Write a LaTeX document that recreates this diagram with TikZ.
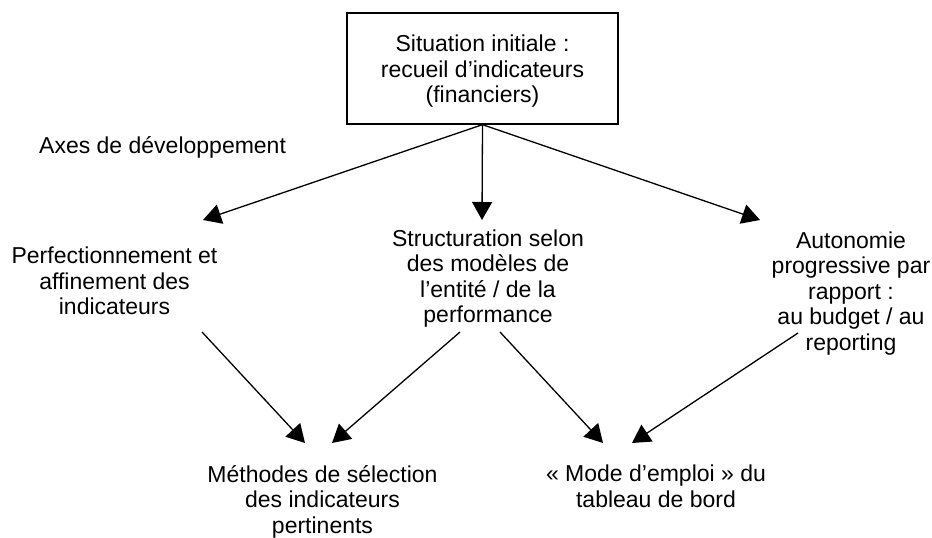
\documentclass[tikz,border=0pt]{standalone}
\usepackage{fontspec}
\setmainfont{Liberation Sans}
\usetikzlibrary{arrows.meta}
\begin{document}
\begin{tikzpicture}[x=1pt,y=-1pt,
  txt/.style={align=center,inner sep=0pt,font=\fontsize{23}{25.5}\selectfont},
  conn/.style={line width=1.3pt,-{Triangle[length=18pt,width=20pt]}}]
\useasboundingbox (0,0) rectangle (932,538);
\node[draw,line width=1.3pt,minimum width=271pt,minimum height=111pt,inner sep=0pt] (box) at (482.5,68.5) {};
\node[txt] (boxtxt) at (482.5,71.5) {Situation initiale :\\recueil d’indicateurs\\(financiers)};
\node[txt,anchor=west] (axes) at (39,147) {Axes de développement};
\node[txt] (perf) at (114.5,281) {Perfectionnement et\\affinement des\\indicateurs};
\node[txt] (struct) at (488,278.5) {Structuration selon\\des modèles de\\l’entité / de la\\performance};
\node[txt] (auto) at (851,293.5) {Autonomie\\progressive par\\rapport :\\au budget / au\\reporting};
\node[txt] (meth) at (322.5,501.5) {Méthodes de sélection\\des indicateurs\\pertinents};
\node[txt] (mode) at (656,486.5) {« Mode d’emploi » du\\tableau de bord};
\coordinate (t1) at (203,220);
\coordinate (t2) at (482,220);
\coordinate (t3) at (760,220);
\coordinate (s4) at (202,332);
\coordinate (t4) at (305,443);
\coordinate (s5) at (460,332);
\coordinate (t5) at (332,443);
\coordinate (s6) at (500,332);
\coordinate (t6) at (603,443);
\coordinate (s7) at (798,333);
\coordinate (t7) at (632,443);
\draw[conn] (box.south) -- (t1);
\draw[conn] (box.south) -- (t2);
\draw[conn] (box.south) -- (t3);
\draw[conn] (s4) -- (t4);
\draw[conn] (s5) -- (t5);
\draw[conn] (s6) -- (t6);
\draw[conn] (s7) -- (t7);
\end{tikzpicture}
\end{document}
